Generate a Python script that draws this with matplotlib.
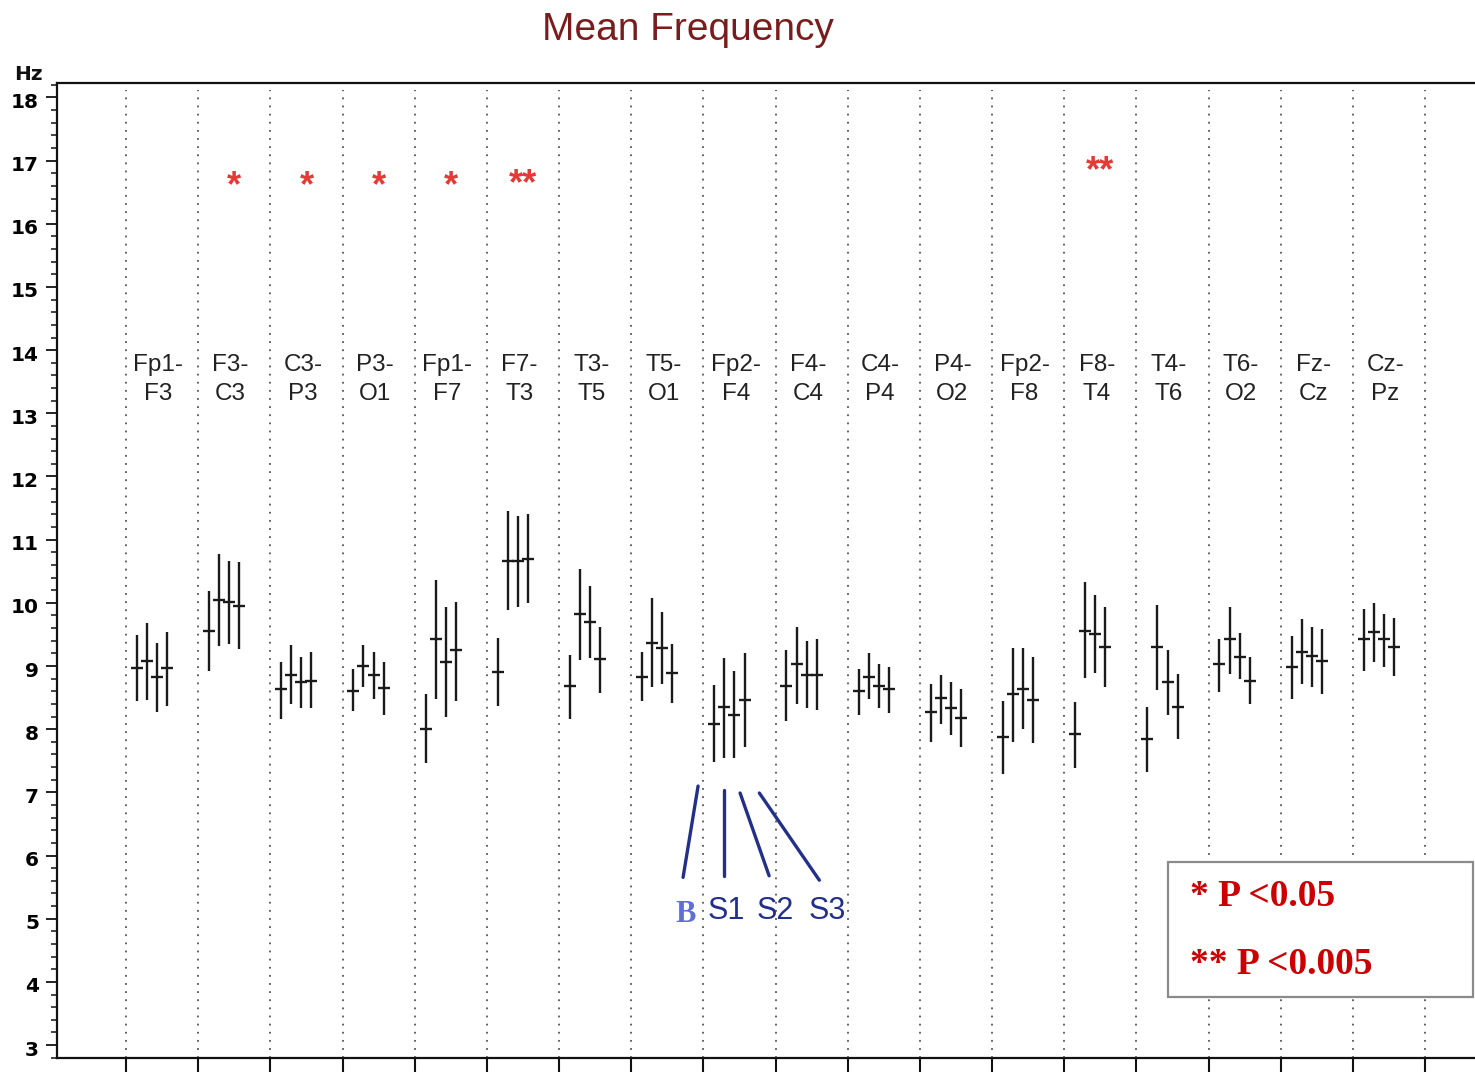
import matplotlib
matplotlib.use("Agg")
import matplotlib.pyplot as plt
import matplotlib.transforms as mtransforms
from matplotlib.patches import Rectangle
from matplotlib.ticker import MultipleLocator
import numpy as np

# EEG bipolar derivations
channels = ["Fp1-F3", "F3-C3", "C3-P3", "P3-O1", "Fp1-F7", "F7-T3", "T3-T5", "T5-O1",
            "Fp2-F4", "F4-C4", "C4-P4", "P4-O2", "Fp2-F8", "F8-T4", "T4-T6", "T6-O2",
            "Fz-Cz", "Cz-Pz"]
sessions = ["B", "S1", "S2", "S3"]

# Mean frequency (Hz) with lower / upper limits of the bars, per session
b_mean = [8.97, 9.56, 8.63, 8.60, 8.01, 8.91, 8.69, 8.83, 8.09, 8.68, 8.60, 8.27, 7.87, 7.92, 7.84, 9.03, 8.99, 9.42]
b_low = [8.45, 8.92, 8.16, 8.29, 7.46, 8.37, 8.16, 8.44, 7.48, 8.13, 8.22, 7.79, 7.29, 7.38, 7.32, 8.59, 8.48, 8.92]
b_high = [9.49, 10.19, 9.06, 8.95, 8.56, 9.45, 9.17, 9.22, 8.70, 9.26, 8.95, 8.72, 8.44, 8.43, 8.35, 9.43, 9.48, 9.91]

s1_mean = [9.08, 10.04, 8.86, 9.00, 9.42, 10.66, 9.82, 9.37, 8.35, 9.03, 8.83, 8.49, 8.55, 9.56, 9.30, 9.42, 9.22, 9.54]
s1_low = [8.47, 9.32, 8.40, 8.67, 8.48, 9.88, 9.09, 8.67, 7.54, 8.40, 8.48, 8.08, 7.79, 8.81, 8.62, 8.87, 8.72, 9.07]
s1_high = [9.68, 10.78, 9.34, 9.34, 10.36, 11.46, 10.53, 10.08, 9.12, 9.62, 9.20, 8.86, 9.29, 10.33, 9.96, 9.94, 9.74, 9.99]

s2_mean = [8.83, 10.02, 8.74, 8.86, 9.06, 10.66, 9.70, 9.29, 8.23, 8.86, 8.69, 8.34, 8.63, 9.50, 8.74, 9.14, 9.16, 9.42]
s2_low = [8.28, 9.35, 8.34, 8.48, 8.20, 9.94, 9.12, 8.71, 7.54, 8.33, 8.34, 7.91, 8.00, 8.89, 8.22, 8.79, 8.67, 8.98]
s2_high = [9.37, 10.66, 9.15, 9.22, 9.94, 11.38, 10.27, 9.85, 8.92, 9.40, 9.03, 8.75, 9.29, 10.13, 9.26, 9.52, 9.62, 9.82]

s3_mean = [8.97, 9.95, 8.77, 8.66, 9.25, 10.69, 9.11, 8.89, 8.46, 8.86, 8.63, 8.18, 8.46, 9.30, 8.35, 8.77, 9.08, 9.30]
s3_low = [8.37, 9.27, 8.34, 8.22, 8.45, 9.99, 8.58, 8.42, 7.72, 8.30, 8.25, 7.72, 7.78, 8.67, 7.85, 8.40, 8.56, 8.84]
s3_high = [9.54, 10.64, 9.22, 9.06, 10.02, 11.40, 9.62, 9.35, 9.21, 9.43, 8.98, 8.63, 9.15, 9.94, 8.87, 9.15, 9.59, 9.76]

significance = ["", "*", "*", "*", "*", "**", "", "", "", "", "", "", "", "**", "", "", "", ""]

y_ticks = list(range(3, 19))

W, H = 1475, 1072
fig = plt.figure(figsize=(W / 100, H / 100), dpi=100)
fig.patch.set_facecolor("white")

ax = fig.add_axes([57 / W, 14 / H, (W - 57) / W, (1058 - 82.7) / H])
n = len(channels)
ax.set_xlim(-0.956, 18.69)
ax.set_ylim(2.796, 18.233)

for side in ("left", "bottom", "top"):
    ax.spines[side].set_linewidth(1.6)
    ax.spines[side].set_color("#111111")
ax.spines["right"].set_visible(False)

# dotted separators between derivations
for i in range(n + 1):
    ax.axvline(i, ymax=0.993, color="#555555", lw=1.3, ls=(0, (1, 3.5)), zorder=1)

# bars
offsets = [0.15, 0.29, 0.43, 0.57]
series = [(b_mean, b_low, b_high), (s1_mean, s1_low, s1_high),
          (s2_mean, s2_low, s2_high), (s3_mean, s3_low, s3_high)]
idx = np.arange(n)
for off, (m, lo, hi) in zip(offsets, series):
    m, lo, hi = np.array(m), np.array(lo), np.array(hi)
    x = idx + off
    ax.errorbar(x, m, yerr=[m - lo, hi - m], fmt="none", ecolor="#1a1a1a",
                elinewidth=1.7, capsize=0, zorder=3)
    ax.plot(x, m, ls="none", marker="_", ms=9, mew=1.7, color="#1a1a1a", zorder=4)

# derivation labels
for i, ch in enumerate(channels):
    top, bottom = ch.split("-")
    ax.text(i + 0.45, 13.77, top + "-", ha="center", va="center", fontsize=17.5,
            family="Liberation Sans", color="#222222")
    ax.text(i + 0.45, 13.30, bottom, ha="center", va="center", fontsize=17.5,
            family="Liberation Sans", color="#222222")

# significance marks
for i, s in enumerate(significance):
    if not s:
        continue
    y = 16.68 if i == 13 else (16.47 if s == "**" else 16.44)
    ax.text(i + 0.5, y, s, ha="center", va="baseline", fontsize=26,
            family="Liberation Sans", fontweight="bold", color="#e53935")

# axes ticks
ax.set_xticks(range(n + 1))
ax.tick_params(axis="x", which="major", direction="out", length=12, width=1.5,
               labelbottom=False, color="#111111")
ax.set_yticks(y_ticks)
ax.yaxis.set_minor_locator(MultipleLocator(0.2))
ax.tick_params(axis="y", which="major", direction="out", length=8, width=1.3,
               pad=5, labelsize=14.5, color="#111111")
ax.tick_params(axis="y", which="minor", direction="out", length=4.5, width=1.1,
               color="#111111")
shift = mtransforms.ScaledTranslation(0, -3 / 100, fig.dpi_scale_trans)
for lbl in ax.get_yticklabels():
    lbl.set_fontweight("bold")
    lbl.set_family("DejaVu Sans")
    lbl.set_transform(lbl.get_transform() + shift)

fig.text(28 / W, 1 - 75 / H, "Hz", ha="center", va="center", fontsize=14.5,
         fontweight="bold", family="DejaVu Sans", color="#111111")

# title
fig.text(688 / W, 1 - 30 / H, "Mean Frequency", ha="center", va="center",
         fontsize=28, family="Liberation Sans", color="#7b1c1c")

# session key lines pointing at the Fp2-F4 group
key_color = "#23308a"
g = 8
key_lines = [((g - 0.074, 7.10), (g - 0.282, 5.655)),
             ((g + 0.29, 7.04), (g + 0.29, 5.68)),
             ((g + 0.508, 6.99), (g + 0.91, 5.68)),
             ((g + 0.775, 6.99), (g + 1.606, 5.61))]
for (x0, y0), (x1, y1) in key_lines:
    ax.plot([x0, x1], [y0, y1], color=key_color, lw=2.4, solid_capstyle="round", zorder=5)
ax.text(g - 0.24, 5.06, sessions[0], ha="center", va="center", fontsize=22,
        family="Liberation Serif", fontweight="bold", color="#5f6fd3")
for k, xoff in zip(range(1, 4), [0.31, 1.0, 1.71]):
    ax.text(g + xoff, 5.13, sessions[k], ha="center", va="center", fontsize=22,
            family="Liberation Sans", color=key_color)

# p-value key box
fig.patches.append(Rectangle((1168 / W, 1 - 997 / H), 305 / W, 135 / H,
                             transform=fig.transFigure, facecolor="white",
                             edgecolor="#8a8a8a", lw=1.6, zorder=10))
fig.text(1190 / W, 1 - 897 / H, "* P <0.05", ha="left", va="center", fontsize=27,
         family="Liberation Serif", fontweight="bold", color="#cc0000", zorder=11)
fig.text(1190 / W, 1 - 965 / H, "** P <0.005", ha="left", va="center", fontsize=27,
         family="Liberation Serif", fontweight="bold", color="#cc0000", zorder=11)

fig.savefig("out.png", dpi=100)
